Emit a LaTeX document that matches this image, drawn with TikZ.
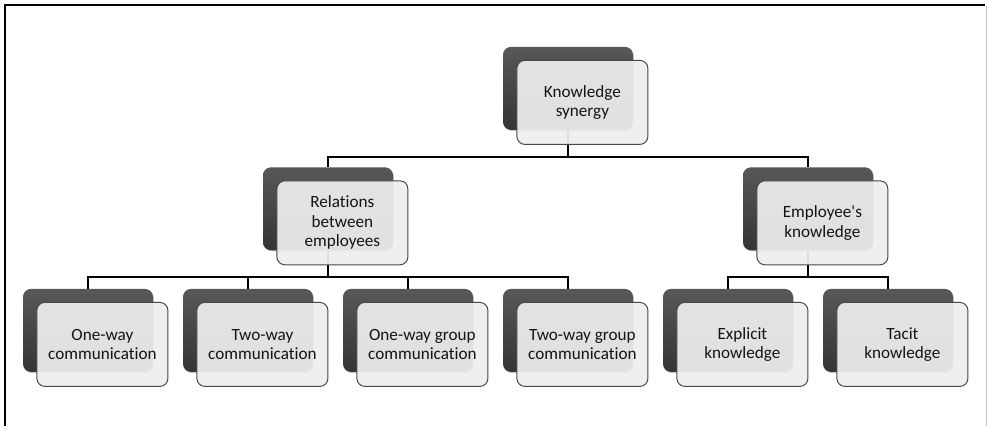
\documentclass[tikz,border=0pt]{standalone}
\usepackage{fontspec}
\setmainfont{Carlito}[Ligatures={TeXOff,CommonOff}]
\usepackage{tikz}
\usetikzlibrary{shadows}
\definecolor{ks_dark}{RGB}{88, 88, 88}
\definecolor{ks_darker}{RGB}{52, 52, 52}
\definecolor{ks_light}{RGB}{238, 238, 238}
\definecolor{ks_edge}{RGB}{70, 70, 70}
\definecolor{ks_text}{RGB}{20, 20, 20}
\tikzstyle{bk}=[rectangle,rounded corners=0.2cm,top color=ks_dark,bottom color=ks_darker,
  draw=none,inner sep=0pt,minimum width=3.25cm,minimum height=2.075cm,
  drop shadow={shadow xshift=0.6pt,shadow yshift=-0.8pt,opacity=0.4}]
\tikzstyle{fr}=[rectangle,rounded corners=0.2cm,fill=ks_light,fill opacity=0.93,text opacity=1,
  draw=ks_edge,line width=0.7pt,inner sep=2pt,minimum width=3.275cm,minimum height=2.1cm,
  align=center,text=ks_text,font=\fontsize{12.2}{13.9}\selectfont]
\tikzstyle{ln}=[line width=1pt,black]
\tikzstyle{none}=[]

\begin{document}
\begin{tikzpicture}
            \useasboundingbox (0, 0) rectangle (24.675, -10.65);
            % frame
            \draw [line width=1.4pt] (0.125, -10.65) -- (0.125, -0.125) -- (24.63, -0.125);
            \draw [line width=0.5pt, black!25] (24.65, -0.14) -- (24.65, -10.65);
            % back boxes
            \node [style=bk] (0) at (14.2, -2.21) {};
            \node [style=bk] (1) at (8.2, -5.22) {};
            \node [style=bk] (2) at (20.2, -5.22) {};
            \node [style=bk] (3) at (2.2, -8.26) {};
            \node [style=bk] (4) at (6.2, -8.26) {};
            \node [style=bk] (5) at (10.2, -8.26) {};
            \node [style=bk] (6) at (14.2, -8.26) {};
            \node [style=bk] (7) at (18.2, -8.26) {};
            \node [style=bk] (8) at (22.2, -8.26) {};
            % bars
            \coordinate (20) at (14.2, -3.925);
            \coordinate (21) at (8.2, -6.925);
            \coordinate (22) at (20.2, -6.925);
            \draw [style=ln] (0.south) -- (20) -| (1.north);
            \draw [style=ln] (20) -| (2.north);
            \draw [style=ln] (1.south) -- (21) -| (3.north);
            \draw [style=ln] (21) -| (4.north);
            \draw [style=ln] (21) -| (5.north);
            \draw [style=ln] (21) -| (6.north);
            \draw [style=ln] (2.south) -- (22) -| (7.north);
            \draw [style=ln] (22) -| (8.north);
            % front boxes
            \node [style=fr] (10) at (14.56, -2.56) {Knowledge\\synergy};
            \node [style=fr] (11) at (8.56, -5.57) {Relations\\between\\employees};
            \node [style=fr] (12) at (20.56, -5.57) {Employee's\\knowledge};
            \node [style=fr] (13) at (2.56, -8.61) {One-way\\communication};
            \node [style=fr] (14) at (6.56, -8.61) {Two-way\\communication};
            \node [style=fr] (15) at (10.56, -8.61) {One-way group\\communication};
            \node [style=fr] (16) at (14.56, -8.61) {Two-way group\\communication};
            \node [style=fr] (17) at (18.56, -8.61) {Explicit\\knowledge};
            \node [style=fr] (18) at (22.56, -8.61) {Tacit\\knowledge};
    \end{tikzpicture}
\end{document}
